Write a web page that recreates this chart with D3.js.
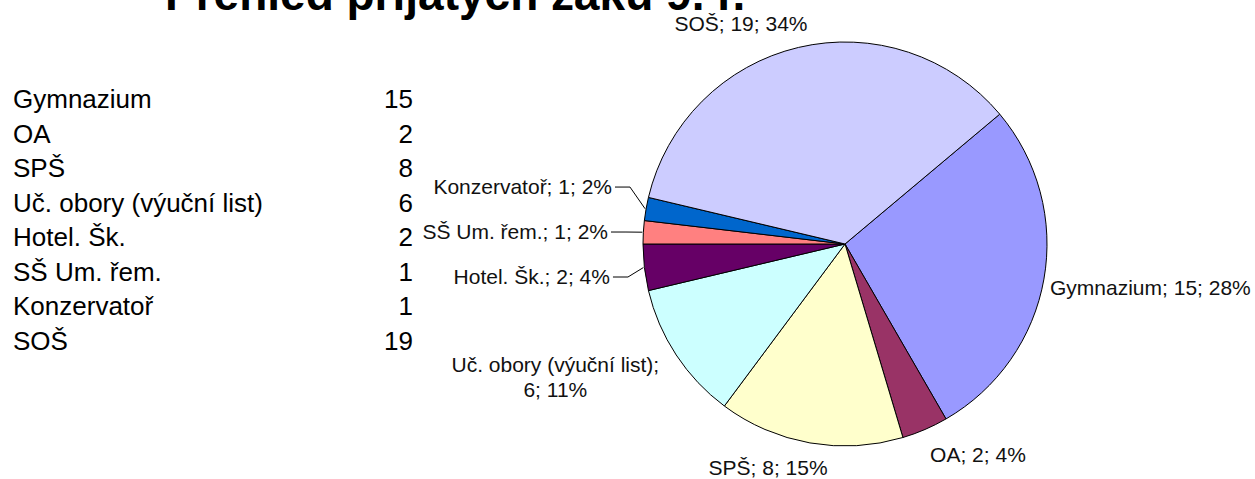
<!DOCTYPE html>
<html>
<head>
<meta charset="utf-8">
<script src="https://cdn.jsdelivr.net/npm/d3@7"></script>
<style>
  html, body { margin: 0; padding: 0; background: #fff; overflow: hidden; }
  text { font-family: 'Liberation Sans', Arial, sans-serif; }
</style>
</head>
<body>
<script>
// data
const title = 'Přehled přijatých žáků 9. r.';
const categories = ['Gymnazium', 'OA', 'SPŠ', 'Uč. obory (výuční list)', 'Hotel. Šk.', 'SŠ Um. řem.', 'Konzervatoř', 'SOŠ'];
const counts = [15, 2, 8, 6, 2, 1, 1, 19];
const percents = [28, 4, 15, 11, 4, 2, 2, 34];
const colors = ['#9999FF', '#993366', '#FFFFCC', '#CCFFFF', '#660066', '#FF8080', '#0066CC', '#CCCCFF'];

const width = 1255;
const height = 479;
const cx = 845;
const cy = 244;
const radius = 202;
const firstSliceAngle = 50; // degrees, clockwise from 12 o'clock

// label nudges (relative to the arc centroid at labelRadius), anchor, 2-line wrap, leader line
const labelRadius = radius + 28;
const labelLayout = [
  { dx: -21.5, dy: 11, anchor: 'start' },
  { dx: -6, dy: 7, anchor: 'start' },
  { dx: -37, dy: 4.5, anchor: 'middle' },
  { dx: -97.5, dy: 2, anchor: 'middle', wrap: true },
  { dx: -6.6, dy: 13.3, anchor: 'end', leader: true },
  { dx: -7.4, dy: 8.4, anchor: 'end', leader: true },
  { dx: -6.5, dy: -10, anchor: 'end', leader: true },
  { dx: -51, dy: 11, anchor: 'middle' },
];

const body = d3.select('body');

const svg = body
  .append('svg')
  .attr('width', width)
  .attr('height', height)
  .attr('viewBox', [0, 0, width, height]);

// Title (cut off by the top edge, like the reference)
svg
  .append('text')
  .attr('x', 165)
  .attr('y', 10)
  .text(title)
  .style('font-size', '46px')
  .style('font-weight', 'bold')
  .style('fill', '#000');

// Source table on the left
const rows = categories.map((c, i) => ({ name: c, value: counts[i] }));
const rowY = d3
  .scaleLinear()
  .domain([0, rows.length - 1])
  .range([108.3, 350]);

const table = svg.append('g');
table
  .selectAll('text.name')
  .data(rows)
  .join('text')
  .attr('class', 'name')
  .attr('x', 13)
  .attr('y', (d, i) => rowY(i))
  .text((d) => d.name)
  .style('font-size', '26px');
table
  .selectAll('text.value')
  .data(rows)
  .join('text')
  .attr('class', 'value')
  .attr('x', 413)
  .attr('y', (d, i) => rowY(i))
  .attr('text-anchor', 'end')
  .text((d) => d.value)
  .style('font-size', '26px');

// Pie
const start = (firstSliceAngle * Math.PI) / 180;
const pie = d3
  .pie()
  .sort(null)
  .value((d) => d)
  .startAngle(start)
  .endAngle(start + 2 * Math.PI);
const arcs = pie(counts);

const arc = d3.arc().innerRadius(0).outerRadius(radius);
const labelArc = d3.arc().innerRadius(labelRadius).outerRadius(labelRadius);

const g = svg.append('g').attr('transform', `translate(${cx},${cy})`);

g.selectAll('path.slice')
  .data(arcs)
  .join('path')
  .attr('class', 'slice')
  .attr('d', arc)
  .attr('fill', (d, i) => colors[i])
  .attr('stroke', '#000')
  .attr('stroke-width', 1);

// Data labels
const labels = g
  .selectAll('text.label')
  .data(arcs)
  .join('text')
  .attr('class', 'label')
  .attr('text-anchor', (d, i) => labelLayout[i].anchor)
  .attr('transform', (d, i) => {
    const [x, y] = labelArc.centroid(d);
    return `translate(${x + labelLayout[i].dx},${y + labelLayout[i].dy})`;
  })
  .style('font-size', '21px')
  .style('fill', '#111');

labels.each(function (d, i) {
  const t = d3.select(this);
  const name = categories[i];
  const tail = `${counts[i]}; ${percents[i]}%`;
  if (labelLayout[i].wrap) {
    t.append('tspan').attr('x', 0).attr('y', 0).text(`${name};`);
    t.append('tspan').attr('x', 0).attr('y', 25).text(tail);
  } else {
    t.text(`${name}; ${tail}`);
  }
});

// Leader lines for the small slices whose labels were pulled aside
g.selectAll('path.leader')
  .data(arcs.filter((d, i) => labelLayout[i].leader))
  .join('path')
  .attr('class', 'leader')
  .attr('fill', 'none')
  .attr('stroke', '#000')
  .attr('stroke-width', 1)
  .attr('d', (d) => {
    const i = d.index;
    const [lx, ly] = labelArc.centroid(d);
    const x0 = lx + labelLayout[i].dx + 3;
    const y0 = ly + labelLayout[i].dy - 7;
    const a = (d.startAngle + d.endAngle) / 2;
    const ex = Math.sin(a) * (radius + 1);
    const ey = -Math.cos(a) * (radius + 1);
    return `M${x0},${y0}H${x0 + 15}L${ex},${ey}`;
  });
</script>
</body>
</html>
